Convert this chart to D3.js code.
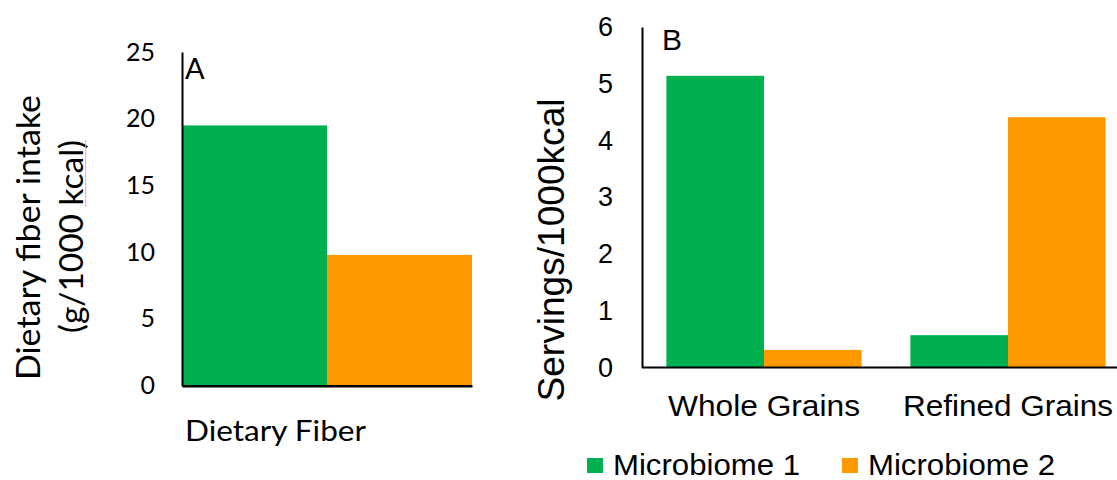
<!DOCTYPE html>
<html>
<head>
<meta charset="utf-8">
<script src="https://cdn.jsdelivr.net/npm/d3@7"></script>
<style>
  body { margin: 0; background: #fff; }
  svg { display: block; }
</style>
</head>
<body>
<script>
// ---- data ----
const seriesNames = ["Microbiome 1", "Microbiome 2"];
const seriesColors = ["#00b050", "#ff9900"];

// Panel A: dietary fiber intake (g/1000 kcal)
const fiberCategories = ["Dietary Fiber"];
const fiberMicrobiome1 = [19.5];
const fiberMicrobiome2 = [9.8];
const fiberTicks = [0, 5, 10, 15, 20, 25];

// Panel B: grain servings per 1000 kcal
const grainCategories = ["Whole Grains", "Refined Grains"];
const grainMicrobiome1 = [5.14, 0.57];
const grainMicrobiome2 = [0.31, 4.41];
const grainTicks = [0, 1, 2, 3, 4, 5, 6];

const W = 1117, H = 480;
const svg = d3.select("body").append("svg").attr("width", W).attr("height", H);

const fontA = "Lato, 'Open Sans', sans-serif";
const fontB = "'Liberation Sans', Arial, sans-serif";

// helper: draw grouped bars
function drawBars(g, cats, seriesVals, x, sub, y) {
  seriesVals.forEach((vals, si) => {
    g.append("g").selectAll("rect")
      .data(cats.map((c, i) => ({ c, v: vals[i] })))
      .join("rect")
      .attr("x", d => x(d.c) + sub(seriesNames[si]))
      .attr("y", d => y(d.v))
      .attr("width", sub.bandwidth())
      .attr("height", d => y(0) - y(d.v))
      .attr("fill", seriesColors[si]);
  });
}

// ================= Panel A =================
const gA = svg.append("g");
const yA = d3.scaleLinear().domain([0, 25]).range([385.7, 52]);
const xA = d3.scaleBand().domain(fiberCategories).range([182, 472]).padding(0);
const subA = d3.scaleBand().domain(seriesNames).range([0, xA.bandwidth()]).padding(0);

drawBars(gA, fiberCategories, [fiberMicrobiome1, fiberMicrobiome2], xA, subA, yA);

const axA = gA.append("g").attr("transform", "translate(182,0)")
  .call(d3.axisLeft(yA).tickValues(fiberTicks).tickSize(0).tickPadding(27).tickFormat(d3.format("d")));
axA.select(".domain").attr("stroke", "#000").attr("stroke-width", 2);
axA.selectAll("text").attr("font-family", fontA).attr("font-size", 25).attr("fill", "#000");

const axAx = gA.append("g").attr("transform", `translate(0,${yA(0)})`)
  .call(d3.axisBottom(xA).tickSize(0).tickSizeOuter(0).tickFormat(""));
axAx.select(".domain").attr("stroke", "#000").attr("stroke-width", 2.5);

gA.selectAll("text.cat").data(fiberCategories).join("text")
  .attr("class", "cat")
  .attr("x", d => xA(d) + 3).attr("y", 441)
  .attr("font-family", fontA).attr("font-size", 29)
  .attr("textLength", 181).attr("lengthAdjust", "spacingAndGlyphs")
  .text(d => d);

gA.append("text").attr("x", 185).attr("y", 79)
  .attr("font-family", fontA).attr("font-size", 29).text("A");

// y-axis title (two lines)
gA.append("text")
  .attr("transform", "translate(39.5,237.5) rotate(-90)")
  .attr("text-anchor", "middle")
  .attr("font-family", fontA).attr("font-size", 33)
  .attr("textLength", 285).attr("lengthAdjust", "spacingAndGlyphs")
  .text("Dietary fiber intake");
gA.append("text")
  .attr("transform", "translate(83,236.5) rotate(-90)")
  .attr("text-anchor", "middle")
  .attr("font-family", fontA).attr("font-size", 33)
  .attr("textLength", 193).attr("lengthAdjust", "spacingAndGlyphs")
  .text("(g/1000 kcal)");
// spell-check underline under "kcal"
gA.append("line").attr("x1", 85.7).attr("x2", 85.7).attr("y1", 140).attr("y2", 207)
  .attr("stroke", "#f2a8a8").attr("stroke-width", 1);

// ================= Panel B =================
const gB = svg.append("g");
const yB = d3.scaleLinear().domain([0, 6]).range([367.5, 27]);
const xB = d3.scaleBand().domain(grainCategories).range([642, 1130])
  .paddingInner(0.2).paddingOuter(0.1);
const subB = d3.scaleBand().domain(seriesNames).range([0, xB.bandwidth()]).padding(0);

drawBars(gB, grainCategories, [grainMicrobiome1, grainMicrobiome2], xB, subB, yB);

const axB = gB.append("g").attr("transform", "translate(642,0)")
  .call(d3.axisLeft(yB).tickValues(grainTicks).tickSize(0).tickPadding(29).tickFormat(d3.format("d")));
axB.select(".domain").attr("stroke", "#000").attr("stroke-width", 2);
axB.selectAll("text").attr("font-family", fontB).attr("font-size", 27).attr("fill", "#000");

const axBx = gB.append("g").attr("transform", `translate(0,${yB(0)})`)
  .call(d3.axisBottom(xB).tickSize(0).tickSizeOuter(0).tickPadding(0));
axBx.select(".domain").attr("stroke", "#000").attr("stroke-width", 2)
  .attr("d", `M642,0H${1130}`);
axBx.selectAll("text")
  .attr("font-family", fontB).attr("font-size", 30).attr("fill", "#000")
  .attr("y", 48).attr("dy", 0)
  .each(function (d) {
    d3.select(this).attr("textLength", d === "Whole Grains" ? 192 : 210)
      .attr("lengthAdjust", "spacingAndGlyphs");
  });

gB.append("text").attr("x", 662).attr("y", 50)
  .attr("font-family", fontB).attr("font-size", 30).text("B");

gB.append("text")
  .attr("transform", "translate(564,250) rotate(-90)")
  .attr("text-anchor", "middle")
  .attr("font-family", fontB).attr("font-size", 37)
  .attr("textLength", 303).attr("lengthAdjust", "spacingAndGlyphs")
  .text("Servings/1000kcal");

// ---- legend ----
const legendX = [587, 842];
const legend = svg.append("g");
seriesNames.forEach((name, i) => {
  legend.append("rect").attr("x", legendX[i]).attr("y", 458)
    .attr("width", 16).attr("height", 15).attr("fill", seriesColors[i]);
  legend.append("text").attr("x", legendX[i] + 26).attr("y", 475)
    .attr("font-family", fontB).attr("font-size", 29)
    .attr("textLength", 187).attr("lengthAdjust", "spacingAndGlyphs")
    .text(name);
});
</script>
</body>
</html>
